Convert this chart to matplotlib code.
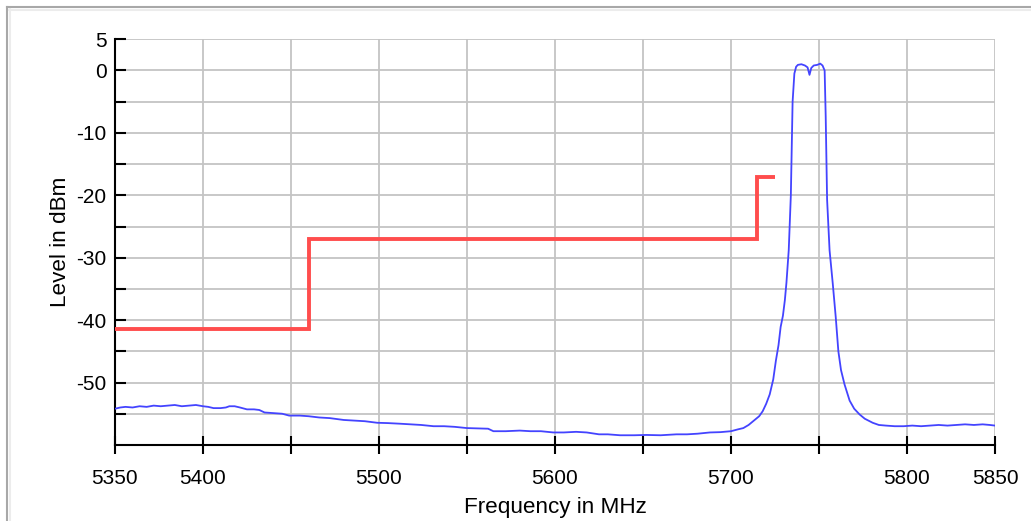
"""Spectrum plot with emission mask."""
import matplotlib
matplotlib.use("Agg")
import matplotlib.pyplot as plt
from matplotlib.lines import Line2D

plt.rcParams["font.family"] = ["Liberation Sans", "DejaVu Sans"]

# measured spectrum (MHz, dBm)
freq_mhz = [
    5350, 5353, 5356, 5360, 5364, 5368, 5372, 5376, 5380, 5384,
    5388, 5392, 5396, 5400, 5403, 5406, 5410, 5413, 5415, 5418,
    5421, 5425, 5429, 5432, 5435, 5440, 5445, 5449, 5455, 5460,
    5466, 5472, 5480, 5486, 5492, 5499, 5505, 5512, 5518, 5524,
    5531, 5537, 5543, 5550, 5556, 5562, 5565, 5572, 5580, 5586,
    5592, 5599, 5605, 5612, 5618, 5625, 5630, 5637, 5645, 5652,
    5660, 5669, 5675, 5681, 5688, 5694, 5700, 5704, 5707, 5710,
    5713, 5716, 5718, 5720, 5722, 5724, 5725.5, 5727, 5728.2, 5729.5,
    5730.6, 5731.5, 5732.8, 5734, 5735, 5736, 5737, 5738, 5740, 5742,
    5743.5, 5744.6, 5745.6, 5747, 5749, 5750.7, 5752, 5753.2, 5753.8, 5754.6,
    5756, 5757.8, 5759.5, 5761, 5762.5, 5764.5, 5767.4, 5770, 5773, 5776,
    5780.5, 5784, 5788, 5793, 5798, 5803, 5808, 5813, 5818, 5823,
    5828, 5833, 5838, 5843, 5847, 5850,
]
level_dbm = [
    -54.2, -54.0, -53.9, -54.0, -53.8, -53.9, -53.7, -53.8, -53.7, -53.6,
    -53.8, -53.7, -53.6, -53.8, -53.9, -54.1, -54.1, -54.0, -53.8, -53.8,
    -54.0, -54.3, -54.3, -54.4, -54.8, -54.9, -55.0, -55.3, -55.3, -55.4,
    -55.6, -55.7, -56.0, -56.1, -56.2, -56.45, -56.5, -56.6, -56.7, -56.8,
    -57.0, -57.0, -57.1, -57.3, -57.35, -57.4, -57.8, -57.8, -57.7, -57.8,
    -57.8, -58.0, -58.0, -57.9, -58.0, -58.3, -58.3, -58.45, -58.45, -58.4,
    -58.45, -58.3, -58.3, -58.2, -58.0, -57.95, -57.8, -57.5, -57.3, -56.8,
    -56.1, -55.4, -54.6, -53.4, -51.9, -49.5, -46.5, -44.0, -41.1, -39.3,
    -36.8, -34.0, -28.8, -20.0, -5.0, -0.5, 0.6, 0.9, 1.0, 0.8,
    0.5, -0.7, 0.4, 0.8, 0.9, 1.1, 0.8, 0.0, -7.3, -20.7,
    -28.8, -34.1, -39.5, -45.0, -48.0, -50.3, -52.9, -54.2, -55.1, -55.8,
    -56.45, -56.8, -56.9, -57.0, -57.0, -56.9, -57.0, -56.9, -56.8, -56.9,
    -56.8, -56.7, -56.8, -56.7, -56.8, -56.9,
]

# limit line steps
mask_freq = [5350, 5460, 5460, 5715, 5715, 5725]
mask_level = [-41.4, -41.4, -27.0, -27.0, -17.0, -17.0]

x_ticks = [5350, 5400, 5450, 5500, 5550, 5600, 5650, 5700, 5750, 5800, 5850]
x_tick_labels = ["5350", "5400", "", "5500", "", "5600", "", "5700", "", "5800", "5850"]
y_ticks = [5, 0, -5, -10, -15, -20, -25, -30, -35, -40, -45, -50, -55]
y_tick_labels = ["5", "0", "", "-10", "", "-20", "", "-30", "", "-40", "", "-50", ""]

fig = plt.figure(figsize=(10.31, 5.21), dpi=100)
ax = fig.add_axes([0.1115, 0.146, 0.8536, 0.7786])

ax.plot(mask_freq, mask_level, color="#ff4d4d", linewidth=2.8,
        solid_capstyle="butt", solid_joinstyle="miter", zorder=3)
ax.plot(freq_mhz, level_dbm, color="#4444ff", linewidth=1.3, zorder=4)

ax.set_xlim(5350, 5850)
ax.set_ylim(-60, 5)
ax.set_xticks(x_ticks)
ax.set_xticklabels(x_tick_labels)
ax.set_yticks(y_ticks)
ax.set_yticklabels(y_tick_labels)
ax.tick_params(axis="x", direction="inout", length=13, width=1.5, pad=11, labelsize=15)
ax.tick_params(axis="y", direction="in", length=8, width=1.5, pad=6, labelsize=15)
ax.grid(color="#c4c4c4", linewidth=1.3)
ax.set_axisbelow(True)
for side in ("top", "right"):
    ax.spines[side].set_visible(False)
for side in ("left", "bottom"):
    ax.spines[side].set_linewidth(1.5)
ax.set_xlabel("Frequency in MHz", fontsize=16.2, labelpad=6)
ax.set_ylabel("Level in dBm", fontsize=16.2, labelpad=4)

# panel frame on the top and left edges
W, H = 1031, 521
fig.add_artist(Line2D([7 / W, 1], [1 - 7 / H, 1 - 7 / H], transform=fig.transFigure,
                      color="#a8a8a8", linewidth=1.5))
fig.add_artist(Line2D([7 / W, 7 / W], [0, 1 - 7 / H], transform=fig.transFigure,
                      color="#a8a8a8", linewidth=1.5))
fig.add_artist(Line2D([9 / W, 1], [1 - 9.5 / H, 1 - 9.5 / H], transform=fig.transFigure,
                      color="#ececec", linewidth=1.5))
fig.add_artist(Line2D([9.5 / W, 9.5 / W], [0, 1 - 9 / H], transform=fig.transFigure,
                      color="#ececec", linewidth=1.5))

fig.savefig("out.png", dpi=100)
